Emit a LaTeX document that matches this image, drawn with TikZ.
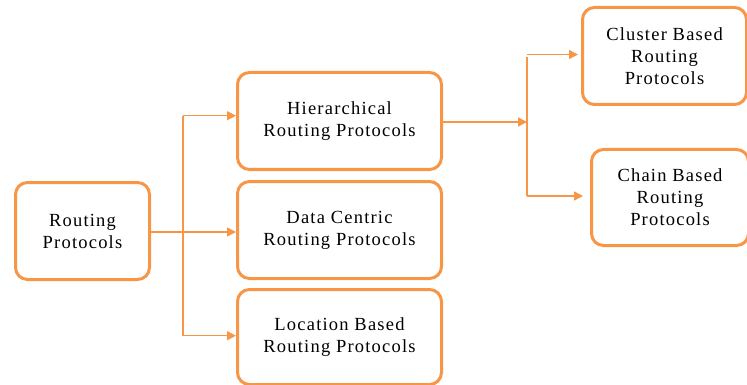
\documentclass[tikz,border=0pt]{standalone}
\usepackage{fontspec}
\setmainfont{Liberation Serif}[LetterSpace=6.5]
\usetikzlibrary{arrows.meta}
\definecolor{org}{HTML}{F79646}
\begin{document}
\begin{tikzpicture}[x=1pt,y=-1pt,
  box/.style={draw=org, line width=3pt, rounded corners=12pt, fill=white, anchor=north west, inner sep=0pt, align=center, font=\fontsize{18.5}{22}\selectfont},
  conn/.style={draw=org, line width=1.4pt},
  arr/.style={conn, -{Triangle[length=9pt,width=9pt]}}]
\useasboundingbox (0,0) rectangle (747,385);
\node[box, minimum width=134pt, minimum height=97pt] (r) at (14,181) {Routing\\Protocols};
\node[box, minimum width=204pt, minimum height=97pt] (h) at (236,71) {Hierarchical\\Routing Protocols};
\node[box, minimum width=204pt, minimum height=97pt] (d) at (236,180) {Data Centric\\Routing Protocols};
\node[box, minimum width=204pt, minimum height=95pt] (l) at (236,288) {Location Based\\Routing Protocols};
\node[box, minimum width=164pt, minimum height=97pt] (c) at (581,6) {Cluster Based\\Routing\\Protocols};
\node[box, minimum width=157pt, minimum height=96pt] (ch) at (590,148) {Chain Based\\Routing\\Protocols};
\coordinate (jm) at (183,232);
\coordinate (jt) at (183,115.7);
\coordinate (jb) at (183,335.7);
\draw[arr] (r.east |- jm) -- (d.west |- jm);
\draw[conn] (jt) -- (jb);
\draw[arr] (jt) -- (h.west |- jt);
\draw[arr] (jb) -- (l.west |- jb);
\coordinate (km) at (527,122);
\coordinate (kt) at (527,54.5);
\coordinate (kb) at (527,196);
\draw[arr] (h.east |- km) -- (km);
\draw[conn] (527,57) -- (kb);
\draw[arr] (kt) -- ([xshift=-3pt]c.west |- kt);
\draw[arr] (kb) -- ([xshift=-7pt]ch.west |- kb);
\end{tikzpicture}
\end{document}
